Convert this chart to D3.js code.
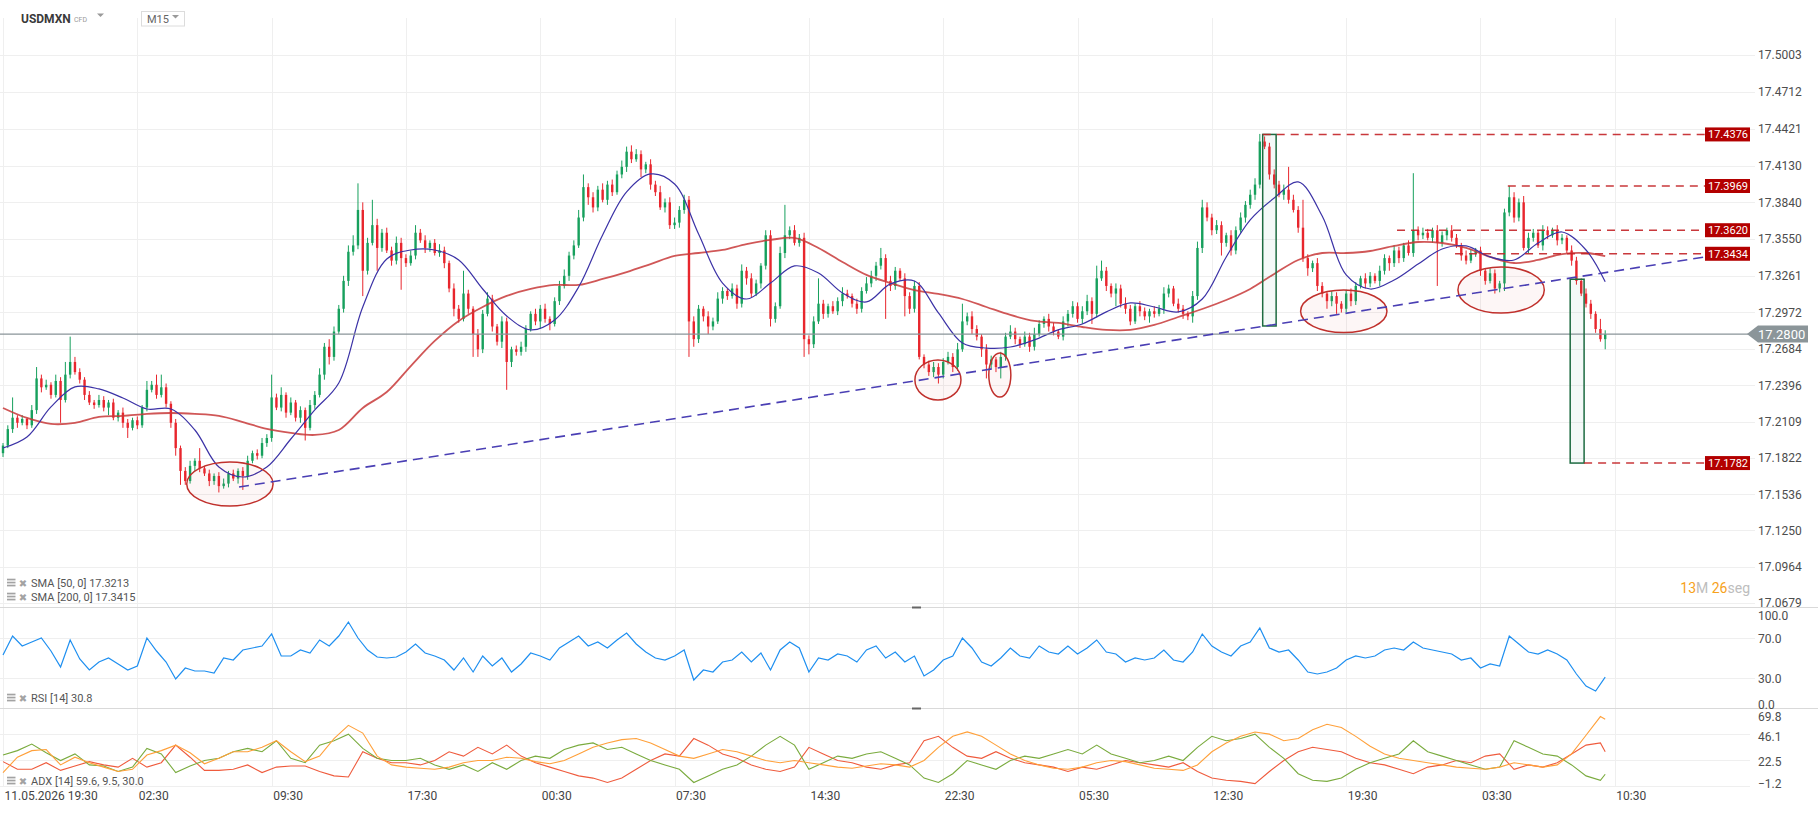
<!DOCTYPE html>
<html>
<head>
<meta charset="utf-8">
<script src="https://cdn.jsdelivr.net/npm/d3@7"></script>
<style>
  body { margin: 0; background: #fff; }
  svg { display: block; font-family: Roboto, "Open Sans", sans-serif; }
</style>
</head>
<body>
<svg id="chart" width="1818" height="813"></svg>
<script>
// ---- data (USDMXN, M15) ----
var timeLabels = ['11.05.2026 19:30', '02:30', '09:30', '17:30', '00:30', '07:30', '14:30',
    '22:30', '05:30', '12:30', '19:30', '03:30', '10:30'];

var priceTicks = [17.5003, 17.4712, 17.4421, 17.4130, 17.3840, 17.3550, 17.3261, 17.2972,
    17.2684, 17.2396, 17.2109, 17.1822, 17.1536, 17.1250, 17.0964, 17.0679];
var rsiTicks = [100, 70, 30, 0];
var adxTicks = [69.8, 46.1, 22.5, -1.2];

var firstOpen = 17.186;
// closes, one row per 7h (28 candles)
var closes = [
    17.192,17.205,17.214,17.210,17.213,17.208,17.220,17.245,17.238,17.240,17.232,17.243,17.228,17.248,17.258,17.250,17.244,17.232,17.226,17.224,17.228,17.222,17.226,17.214,17.218,17.210,17.206,17.212,
    17.208,17.222,17.236,17.240,17.232,17.238,17.225,17.210,17.190,17.172,17.164,17.176,17.180,17.174,17.170,17.164,17.168,17.160,17.162,17.170,17.166,17.172,17.168,17.180,17.186,17.184,17.194,17.198,
    17.230,17.222,17.232,17.218,17.226,17.214,17.220,17.206,17.224,17.232,17.248,17.270,17.262,17.282,17.300,17.322,17.345,17.350,17.378,17.330,17.352,17.366,17.348,17.360,17.346,17.338,17.352,17.340,
    17.336,17.342,17.360,17.354,17.348,17.352,17.344,17.346,17.336,17.316,17.300,17.292,17.312,17.300,17.280,17.268,17.296,17.308,17.286,17.274,17.290,17.258,17.268,17.266,17.270,17.284,17.296,17.290,
    17.300,17.292,17.288,17.306,17.318,17.326,17.342,17.350,17.372,17.396,17.388,17.380,17.394,17.386,17.398,17.392,17.406,17.412,17.424,17.418,17.422,17.410,17.414,17.398,17.392,17.380,17.384,17.366,
    17.368,17.378,17.386,17.290,17.276,17.300,17.294,17.286,17.290,17.308,17.314,17.310,17.316,17.304,17.330,17.324,17.312,17.320,17.334,17.358,17.292,17.302,17.344,17.358,17.362,17.352,17.356,17.276,
    17.272,17.290,17.304,17.296,17.302,17.298,17.306,17.312,17.310,17.304,17.300,17.314,17.320,17.326,17.334,17.340,17.322,17.318,17.330,17.324,17.310,17.300,17.318,17.262,17.256,17.250,17.254,17.248,
    17.258,17.262,17.254,17.268,17.290,17.294,17.284,17.278,17.268,17.256,17.260,17.254,17.262,17.278,17.282,17.276,17.272,17.278,17.270,17.280,17.288,17.292,17.286,17.282,17.278,17.290,17.296,17.302,
    17.292,17.298,17.306,17.296,17.324,17.330,17.318,17.312,17.316,17.304,17.300,17.290,17.302,17.298,17.294,17.298,17.296,17.300,17.312,17.316,17.304,17.300,17.296,17.294,17.310,17.348,17.380,17.372,
    17.362,17.366,17.352,17.358,17.346,17.362,17.372,17.382,17.390,17.398,17.432,17.428,17.406,17.398,17.390,17.394,17.386,17.378,17.364,17.340,17.332,17.336,17.318,17.312,17.306,17.310,17.304,17.300,
    17.312,17.306,17.318,17.324,17.320,17.326,17.322,17.330,17.340,17.336,17.346,17.340,17.350,17.344,17.362,17.358,17.360,17.356,17.362,17.352,17.358,17.362,17.356,17.350,17.342,17.338,17.344,17.346,
    17.330,17.322,17.328,17.316,17.320,17.376,17.388,17.372,17.384,17.348,17.356,17.360,17.350,17.362,17.358,17.362,17.354,17.356,17.346,17.338,17.322,17.312,17.304,17.296,17.284,17.276,17.280
];
// upper / lower wick beyond the body, in 0.001
var wickHigh = [
    2,3,16,2,3,1,4,9,3,4,2,5,3,10,20,4,3,2,3,2,4,3,2,3,2,4,3,2,
    3,2,7,3,8,10,3,2,3,2,3,4,2,10,2,3,2,3,4,2,3,2,3,4,2,3,4,3,
    18,3,6,2,4,2,3,2,4,3,5,3,6,4,3,4,5,8,21,6,4,20,5,3,4,3,5,4,
    3,4,6,3,4,2,3,5,3,2,4,3,18,3,2,4,3,5,3,2,4,3,2,3,4,3,2,4,
    3,4,2,3,4,5,3,4,6,10,3,4,3,5,3,4,3,5,4,5,4,3,2,4,3,5,3,4,
    4,3,4,3,4,3,2,4,3,5,3,2,4,3,5,3,4,3,2,4,4,3,5,24,3,4,3,4,
    3,4,20,3,2,4,3,5,3,2,4,3,5,4,3,8,3,4,3,2,4,3,4,3,2,3,4,3,
    3,4,3,5,14,3,4,3,2,4,3,2,4,3,5,3,2,4,3,5,3,2,4,3,2,4,3,4,
    3,4,5,3,10,8,3,2,4,3,5,3,2,4,3,2,4,3,5,3,2,4,3,2,4,5,6,4,
    3,4,3,2,4,3,4,3,4,5,6,4,3,4,3,4,18,4,3,22,3,2,4,3,2,4,3,2,
    3,4,3,2,4,3,2,4,3,2,4,3,2,4,45,3,4,3,2,4,3,2,4,3,2,4,3,2,
    3,2,4,3,2,3,9,4,3,5,4,3,2,4,3,2,4,3,2,4,3,2,4,3,2,8,3
];
var wickLow = [
    3,2,3,4,2,3,2,3,4,2,3,2,18,2,3,2,3,4,2,3,2,3,6,2,3,4,8,2,
    3,2,3,2,3,2,3,4,6,11,3,2,4,3,2,4,3,5,2,3,2,4,11,3,2,3,2,3,
    3,2,3,4,2,3,4,10,2,3,2,4,6,3,2,3,4,3,3,20,3,2,18,3,2,4,3,25,
    3,2,3,2,4,3,2,3,4,3,6,3,2,4,18,6,3,2,4,3,5,22,4,3,3,4,2,3,
    6,3,5,2,3,2,4,3,2,3,6,4,3,2,4,3,2,3,4,3,2,6,3,4,3,2,4,3,
    3,4,3,28,6,3,4,6,3,2,4,3,2,4,3,5,3,2,4,3,6,3,2,4,3,2,3,14,
    8,3,2,4,3,2,3,4,2,3,4,3,2,3,4,3,30,4,3,2,16,4,3,2,3,3,4,7,
    3,2,4,3,2,3,4,3,6,11,3,4,9,3,2,4,3,2,4,3,2,3,4,3,2,3,4,3,
    3,4,3,8,3,2,4,3,10,3,4,3,2,4,3,5,3,2,4,3,2,3,4,3,5,3,4,3,
    4,3,10,3,4,3,2,4,3,4,3,2,4,3,2,4,3,2,4,3,6,3,4,3,6,4,8,3,
    3,4,3,2,4,3,2,4,3,6,3,4,3,2,3,4,3,2,4,34,3,4,3,2,4,3,2,3,
    4,3,2,4,3,6,3,4,3,2,4,3,2,4,3,2,4,3,2,4,3,2,3,4,3,2,8
];

// moving averages, sampled every 5 candles (last one at candle 334)
var sma50 = [17.1901,17.1988,17.2225,17.2383,17.2367,17.2296,17.2209,17.2209,17.2043,17.1751,
    17.1672,17.1751,17.1972,17.2201,17.2414,17.3014,17.3393,17.3464,17.3464,17.3385,
    17.3156,17.2943,17.2833,17.2911,17.3172,17.3582,17.3922,17.4064,17.3985,17.3590,
    17.3203,17.3077,17.3203,17.3338,17.3282,17.3125,17.3054,17.3196,17.3219,17.2967,
    17.2730,17.2690,17.2698,17.2754,17.2833,17.2880,17.2975,17.3046,17.3014,17.2975,
    17.3077,17.3409,17.3701,17.3874,17.4001,17.3732,17.3267,17.3156,17.3227,17.3353,
    17.3472,17.3496,17.3409,17.3385,17.3519,17.3606,17.3464,17.3213];
var sma200 = [17.2217,17.2138,17.2091,17.2099,17.2146,17.2154,17.2170,17.2177,17.2170,17.2154,
    17.2106,17.2051,17.2020,17.2004,17.2043,17.2217,17.2343,17.2548,17.2746,17.2904,
    17.3014,17.3101,17.3156,17.3188,17.3188,17.3235,17.3290,17.3353,17.3417,17.3440,
    17.3464,17.3511,17.3543,17.3559,17.3480,17.3369,17.3267,17.3203,17.3148,17.3117,
    17.3077,17.3014,17.2951,17.2904,17.2888,17.2856,17.2833,17.2833,17.2872,17.2935,
    17.2998,17.3069,17.3156,17.3275,17.3385,17.3440,17.3440,17.3456,17.3496,17.3527,
    17.3519,17.3480,17.3409,17.3361,17.3385,17.3432,17.3440,17.3415];
var smaBars = d3.range(0, 331, 5).concat([334]);

// RSI [14], every 2nd candle
var rsiValues = [
    53,72,62,66,70,57,41,68,49,38,46,50,44,38,42,70,57,46,29,40,37,37,35,50,48,58,60,62,74,52,52,58,55,68,62,72,86,70,58,51,50,51,
    56,64,55,52,48,38,50,36,52,42,50,36,44,55,
    52,48,60,66,72,62,66,60,68,75,64,56,50,48,
    52,58,28,38,36,46,48,56,46,55,38,58,66,60,
    36,50,48,54,52,46,58,62,50,56,46,52,32,38,
    48,52,70,60,46,42,50,60,52,50,62,56,54,62,
    54,60,68,56,54,46,50,48,50,58,48,46,56,74,
    62,56,52,62,66,80,60,56,58,48,36,34,36,40,
    48,52,50,52,58,60,58,66,60,58,56,54,48,50,
    40,44,42,72,64,56,54,58,54,48,34,22,17,30.8
];
var rsiBars = d3.range(0, 335, 2);

// ADX [14]: ADX, +DI, -DI, every 3rd candle (last one at candle 334)
var adxValues = [
    11,25,31,32,18,25,20,16,12,14,27,31,36,29,19,24,30,30,34,40,30,21,26,42,54,47,26,18,
    16,15,14,16,20,22,22,25,24,21,19,22,28,34,
    38,41,42,38,32,26,24,28,32,30,26,22,20,22,
    20,18,16,15,17,19,18,16,22,34,44,48,44,36,
    28,22,18,15,14,16,20,22,21,18,15,14,13,18,
    30,38,44,48,46,40,42,50,55,52,44,35,28,24,
    22,20,18,16,15,14,16,20,18,16,18,28,45,62,
    59.6
];
var plusDiValues = [
    27,31,37,29,22,28,18,17,12,16,33,28,11,17,22,24,30,33,30,40,24,20,36,40,46,33,24,22,
    22,24,18,14,18,12,20,14,22,26,24,32,36,38,
    32,34,28,22,18,14,2,8,14,18,26,36,44,36,
    14,20,26,24,28,30,24,18,6,2,10,22,18,14,
    22,26,24,28,32,28,36,28,24,20,22,26,22,34,
    44,40,42,46,34,24,10,4,3,6,14,20,24,28,
    40,30,26,22,18,14,16,40,34,28,26,18,8,4,
    9.5
];
var minusDiValues = [
    21,14,14,20,13,17,21,18,16,24,16,20,36,25,13,13,14,18,11,16,17,17,12,8,7,30,24,20,
    20,18,22,30,26,34,28,36,26,20,16,12,8,6,
    2,6,14,22,28,26,42,36,28,24,18,14,12,16,
    34,28,22,20,16,14,18,20,40,44,34,26,24,30,
    24,20,18,16,12,16,14,18,22,20,18,16,20,12,
    6,4,3,1,12,22,30,34,32,30,24,20,18,14,
    10,16,18,22,20,26,28,14,18,16,20,28,36,38,
    30.0
];
var adxBars = d3.range(0, 334, 3).concat([334]);

var lastPrice = 17.2800;

// drawings on the chart
var trend = [[49.2, 17.1593], [354.8, 17.3409]];
var levels = [
    { price: 17.4376, from: 262.6 },
    { price: 17.3969, from: 313.7 },
    { price: 17.3620, from: 290.6 },
    { price: 17.3434, from: 302.7 },
    { price: 17.1782, from: 329.6 }
];
var ellipses = [
    { bar: 47.3, price: 17.1617, rBars: 9.0, rPrice: 0.0174 },
    { bar: 194.9, price: 17.2438, rBars: 4.8, rPrice: 0.0158 },
    { bar: 207.8, price: 17.2477, rBars: 2.3, rPrice: 0.0174 },
    { bar: 279.5, price: 17.2980, rBars: 9.0, rPrice: 0.0168 },
    { bar: 312.3, price: 17.3148, rBars: 9.0, rPrice: 0.0182 }
];
var boxes = [
    { bar0: 262.6, bar1: 265.4, top: 17.4376, bottom: 17.2864 },
    { bar0: 326.7, bar1: 329.6, top: 17.3233, bottom: 17.1782 }
];

// ---- candles ----
var bars = closes.map(function (c, i) {
    var o = i === 0 ? firstOpen : closes[i - 1];
    return {
        i: i, o: o, c: c,
        h: Math.max(o, c) + wickHigh[i] / 1000,
        l: Math.min(o, c) - wickLow[i] / 1000
    };
});

// ---- layout ----
var svg = d3.select('#chart');
var plotRight = 1755;

var x = d3.scaleLinear().domain([0, 336]).range([3, 1614.8]);
var y = d3.scaleLinear().domain([17.0679, 17.5003]).range([602.8, 55]);
var yRsi = d3.scaleLinear().domain([0, 100]).range([708, 608]);
var yAdx = d3.scaleLinear().domain([-1.2, 69.8]).range([786, 708]);

var defs = svg.append('defs');
[['clipMain', 0, 0, plotRight, 607], ['clipRsi', 0, 609, plotRight, 99], ['clipAdx', 0, 710, plotRight, 77]]
    .forEach(function (c) {
        defs.append('clipPath').attr('id', c[0]).append('rect')
            .attr('x', c[1]).attr('y', c[2]).attr('width', c[3]).attr('height', c[4]);
    });

var grid = svg.append('g').attr('stroke', '#efefef').attr('stroke-width', 1);
var tickBars = d3.range(0, 337, 28);

// vertical grid
grid.selectAll('.vg').data(tickBars).enter().append('line')
    .attr('x1', function (d) { return Math.round(x(d)) + 0.5; })
    .attr('x2', function (d) { return Math.round(x(d)) + 0.5; })
    .attr('y1', 18).attr('y2', 786);

// horizontal grid
grid.selectAll('.hg').data(priceTicks).enter().append('line')
    .attr('x1', 0).attr('x2', plotRight)
    .attr('y1', function (d) { return Math.round(y(d)) + 0.5; })
    .attr('y2', function (d) { return Math.round(y(d)) + 0.5; });
grid.selectAll('.rg').data([70, 30]).enter().append('line')
    .attr('x1', 0).attr('x2', plotRight)
    .attr('y1', function (d) { return Math.round(yRsi(d)) + 0.5; })
    .attr('y2', function (d) { return Math.round(yRsi(d)) + 0.5; });
grid.selectAll('.ag').data([46.1, 22.5, -1.2]).enter().append('line')
    .attr('x1', 0).attr('x2', 1750)
    .attr('y1', function (d) { return Math.round(yAdx(d)) + 0.5; })
    .attr('y2', function (d) { return Math.round(yAdx(d)) + 0.5; });

// panel separators
svg.selectAll('.sep').data([607.5, 708.5]).enter().append('line')
    .attr('x1', 0).attr('x2', 1818).attr('y1', function (d) { return d; }).attr('y2', function (d) { return d; })
    .attr('stroke', '#d9d9d9');
svg.selectAll('.handle').data([607.5, 708.5]).enter().append('line')
    .attr('x1', 912).attr('x2', 921).attr('y1', function (d) { return d; }).attr('y2', function (d) { return d; })
    .attr('stroke', '#666').attr('stroke-width', 2);

// ---- main panel ----
var main = svg.append('g').attr('clip-path', 'url(#clipMain)');
var upCol = '#17a05d', dnCol = '#e8262d';

var candle = main.append('g').selectAll('g').data(bars).enter().append('g')
    .attr('fill', function (d) { return d.c >= d.o ? upCol : dnCol; })
    .attr('stroke', function (d) { return d.c >= d.o ? upCol : dnCol; });
candle.append('line')
    .attr('x1', function (d) { return x(d.i); }).attr('x2', function (d) { return x(d.i); })
    .attr('y1', function (d) { return y(d.h); }).attr('y2', function (d) { return y(d.l); })
    .attr('stroke-width', 1);
candle.append('rect')
    .attr('stroke', 'none')
    .attr('x', function (d) { return x(d.i) - 1.2; })
    .attr('width', 2.4)
    .attr('y', function (d) { return y(Math.max(d.o, d.c)); })
    .attr('height', function (d) { return Math.max(1, y(Math.min(d.o, d.c)) - y(Math.max(d.o, d.c))); });

var smaLine = d3.line()
    .x(function (d, i) { return x(smaBars[i]); })
    .y(function (d) { return y(d); })
    .curve(d3.curveCatmullRom);
main.append('path').datum(sma200).attr('d', smaLine)
    .attr('fill', 'none').attr('stroke', '#c83a3a').attr('stroke-width', 1.8).attr('opacity', 0.85);
main.append('path').datum(sma50).attr('d', smaLine)
    .attr('fill', 'none').attr('stroke', '#3b32a6').attr('stroke-width', 1.2);

// current price line
main.append('line')
    .attr('x1', 0).attr('x2', plotRight)
    .attr('y1', y(lastPrice)).attr('y2', y(lastPrice))
    .attr('stroke', '#8a9499').attr('stroke-width', 1.4);

// ---- drawings ----
var draw = svg.append('g');
draw.selectAll('ellipse').data(ellipses).enter().append('ellipse')
    .attr('cx', function (d) { return x(d.bar); })
    .attr('cy', function (d) { return y(d.price); })
    .attr('rx', function (d) { return x(d.bar + d.rBars) - x(d.bar); })
    .attr('ry', function (d) { return y(d.price - d.rPrice) - y(d.price); })
    .attr('fill', 'rgba(220,70,70,0.05)').attr('stroke', '#c0302c').attr('stroke-width', 1.5);

draw.selectAll('.box').data(boxes).enter().append('rect')
    .attr('x', function (d) { return x(d.bar0); })
    .attr('width', function (d) { return x(d.bar1) - x(d.bar0); })
    .attr('y', function (d) { return y(d.top); })
    .attr('height', function (d) { return y(d.bottom) - y(d.top); })
    .attr('fill', 'rgba(30,140,110,0.05)').attr('stroke', '#1d6b41').attr('stroke-width', 1.5);

var labelX = 1705;
draw.selectAll('.lvl').data(levels).enter().append('line')
    .attr('x1', function (d) { return x(d.from); }).attr('x2', labelX)
    .attr('y1', function (d) { return y(d.price); }).attr('y2', function (d) { return y(d.price); })
    .attr('stroke', '#c42327').attr('stroke-width', 1.4).attr('stroke-dasharray', '8,6').attr('opacity', 0.9);

draw.append('line')
    .attr('x1', x(trend[0][0])).attr('y1', y(trend[0][1]))
    .attr('x2', x(trend[1][0])).attr('y2', y(trend[1][1]))
    .attr('stroke', '#4a3fb4').attr('stroke-width', 1.6).attr('stroke-dasharray', '10,6');

var lvlTag = draw.selectAll('.tag').data(levels).enter().append('g')
    .attr('transform', function (d) { return 'translate(' + labelX + ',' + y(d.price) + ')'; });
lvlTag.append('rect').attr('x', 0).attr('y', -7).attr('width', 45).attr('height', 14).attr('fill', '#b30000');
lvlTag.append('text').attr('x', 3).attr('y', 4).attr('fill', '#fff').attr('font-size', 11)
    .text(function (d) { return d.price.toFixed(4); });

// ---- RSI panel ----
svg.append('g').attr('clip-path', 'url(#clipRsi)').append('path').datum(rsiValues)
    .attr('d', d3.line().x(function (d, i) { return x(rsiBars[i]); }).y(function (d) { return yRsi(d); }))
    .attr('fill', 'none').attr('stroke', '#1e8ff0').attr('stroke-width', 1.2);

// ---- ADX panel ----
var adxG = svg.append('g').attr('clip-path', 'url(#clipAdx)');
var adxLine = d3.line().x(function (d, i) { return x(adxBars[i]); }).y(function (d) { return yAdx(d); });
[[minusDiValues, '#ef5b3d'], [plusDiValues, '#7aab3e'], [adxValues, '#ffa03a']].forEach(function (s) {
    adxG.append('path').datum(s[0]).attr('d', adxLine)
        .attr('fill', 'none').attr('stroke', s[1]).attr('stroke-width', 1.1);
});

// ---- axes ----
function styleAxis(g) {
    g.select('.domain').remove();
    g.attr('font-size', 12).attr('font-family', 'Roboto, sans-serif').attr('color', '#4d4d4d');
}
svg.append('g').attr('transform', 'translate(1756,0)')
    .call(d3.axisRight(y).tickValues(priceTicks).tickSize(0).tickPadding(2).tickFormat(d3.format('.4f')))
    .call(styleAxis);
svg.append('g').attr('transform', 'translate(1756,0)')
    .call(d3.axisRight(yRsi).tickValues(rsiTicks).tickSize(0).tickPadding(2).tickFormat(d3.format('.1f')))
    .call(styleAxis)
    .call(function (g) {
        g.selectAll('text').attr('dy', function (d) { return d === 100 ? '0.92em' : d === 0 ? '0.08em' : '0.4em'; });
    });
svg.append('g').attr('transform', 'translate(1756,0)')
    .call(d3.axisRight(yAdx).tickValues(adxTicks).tickSize(0).tickPadding(2).tickFormat(d3.format('.1f')))
    .call(styleAxis)
    .call(function (g) {
        g.selectAll('text').attr('dy', function (d) { return d === 69.8 ? '1.05em' : d === -1.2 ? '0.1em' : '0.5em'; });
    });
svg.append('g').attr('transform', 'translate(0,787)')
    .call(d3.axisBottom(x).tickValues(tickBars).tickSize(0).tickPadding(4)
        .tickFormat(function (d, i) { return timeLabels[i]; }))
    .call(styleAxis)
    .call(function (g) { g.selectAll('text').attr('text-anchor', 'start').attr('dx', 1).attr('color', '#444'); });

// current price tag
var py = y(lastPrice);
svg.append('path')
    .attr('d', 'M1747,' + py + 'L1758,' + (py - 8.5) + 'H1808V' + (py + 8.5) + 'H1758Z')
    .attr('fill', '#8b9599');
svg.append('text').attr('x', 1758).attr('y', py + 4.5).attr('fill', '#fff')
    .attr('font-size', 13).text(lastPrice.toFixed(4));

// ---- header ----
var head = svg.append('g');
head.append('text').attr('x', 21).attr('y', 23).attr('font-size', 12).attr('font-weight', 'bold')
    .attr('fill', '#3a3a3a').text('USDMXN');
head.append('text').attr('x', 74).attr('y', 22).attr('font-size', 7).attr('fill', '#9a9a9a').text('CFD');
head.append('path').attr('d', 'M97,13.5H104L100.5,17Z').attr('fill', '#9a9a9a');
head.append('rect').attr('x', 141.5).attr('y', 11.5).attr('width', 43).attr('height', 14.5)
    .attr('fill', '#fff').attr('stroke', '#dcdcdc');
head.append('text').attr('x', 147).attr('y', 23).attr('font-size', 11).attr('fill', '#666').text('M15');
head.append('path').attr('d', 'M172,15H179L175.5,18.5Z').attr('fill', '#9a9a9a');

// ---- legends ----
var legends = [
    { y: 583, text: 'SMA [50, 0] 17.3213' },
    { y: 597, text: 'SMA [200, 0] 17.3415' },
    { y: 698, text: 'RSI [14] 30.8' },
    { y: 781, text: 'ADX [14] 59.6, 9.5, 30.0' }
];
var leg = svg.selectAll('.leg').data(legends).enter().append('g')
    .attr('transform', function (d) { return 'translate(0,' + d.y + ')'; });
[-3.5, -0.5, 2.5].forEach(function (dy) {
    leg.append('rect').attr('x', 7).attr('y', dy - 0.8).attr('width', 8.5).attr('height', 1.7).attr('fill', '#a3a3a3');
});
leg.append('text').attr('x', 23).attr('y', 3.5).attr('text-anchor', 'middle')
    .attr('font-size', 10).attr('fill', '#a3a3a3').attr('font-family', 'DejaVu Sans').text('\u2716');
leg.append('text').attr('x', 31).attr('y', 4).attr('font-size', 11).attr('fill', '#555')
    .text(function (d) { return d.text; });

// candle timer
var timer = svg.append('text').attr('x', 1750).attr('y', 593).attr('text-anchor', 'end').attr('font-size', 14);
[['13', '#f7a21b'], ['M ', '#bdbdbd'], ['26', '#f7a21b'], ['seg', '#bdbdbd']].forEach(function (p) {
    timer.append('tspan').attr('fill', p[1]).text(p[0]);
});
</script>
</body>
</html>
